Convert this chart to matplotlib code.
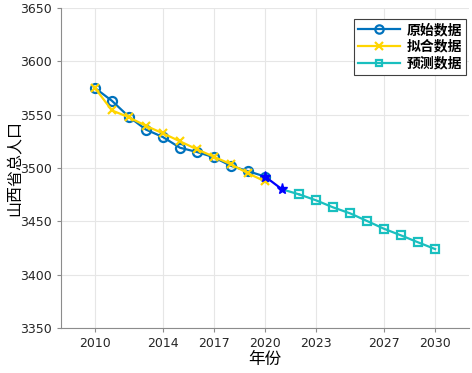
import matplotlib
matplotlib.use("Agg")
import matplotlib.pyplot as plt
from matplotlib.lines import Line2D
import numpy as np

plt.rcParams['font.family'] = ['Noto Sans CJK SC', 'DejaVu Sans']

years_orig = np.arange(2010, 2021)
pop_orig = [3575, 3563, 3548, 3536, 3529, 3519, 3515, 3510, 3502, 3497, 3492]
pop_fit = [3575, 3554, 3547.5, 3539.5, 3532.5, 3525, 3517.5, 3510.5, 3503.5, 3495, 3487.5]
years_link = [2020, 2021]
pop_link = [3492, 3480]
years_pred = np.arange(2021, 2031)
pop_pred = [3480, 3475.3, 3469.7, 3463.1, 3457.5, 3450.3, 3443, 3436.8, 3430.3, 3424]
xticks = [2010, 2014, 2017, 2020, 2023, 2027, 2030]

fig = plt.figure(figsize=(4.72, 3.73), dpi=100)
ax = fig.add_axes([0.129, 0.1206, 0.865, 0.858])

ax.plot(years_orig, pop_orig, '-o', color='#0072BD', lw=1.6, ms=6.5,
        mfc='none', mew=1.6, zorder=3)
ax.plot(years_orig, pop_fit, '-x', color='#FFD500', lw=1.6, ms=6,
        mew=1.6, zorder=4)
ax.plot(years_link, pop_link, '-*', color='#0000FF', lw=1.6, ms=8,
        zorder=5)
ax.plot(years_pred[1:], pop_pred[1:], '-s', color='#19BFBF', lw=1.6, ms=5.5,
        mfc='none', mew=1.6, zorder=3)
ax.plot(years_pred[:2], pop_pred[:2], '-', color='#19BFBF', lw=1.6, zorder=2)

ax.set_xlim(2008, 2032)
ax.set_ylim(3350, 3650)
ax.set_xticks(xticks)
ax.set_yticks(np.arange(3350, 3651, 50))
ax.grid(True, color='#E6E6E6', lw=0.8)
ax.set_axisbelow(True)
for s in ['top', 'right']:
    ax.spines[s].set_visible(False)
for s in ['left', 'bottom']:
    ax.spines[s].set_color('#8C8C8C')
ax.tick_params(colors='#8C8C8C', length=3, labelsize=9, labelcolor='#262626')
for lab in ax.get_xticklabels() + ax.get_yticklabels():
    lab.set_family('DejaVu Sans')

ax.set_xlabel('年份', fontsize=12, fontweight='medium', labelpad=1)
ax.set_ylabel('山西省总人口', fontsize=11.5, fontweight='medium')
ax.yaxis.set_label_coords(-0.094, 0.5)

handles = [
    Line2D([], [], color='#0072BD', lw=1.6, marker='o', ms=6, mfc='none', mew=1.6),
    Line2D([], [], color='#FFD500', lw=1.6, marker='x', ms=6, mew=1.6),
    Line2D([], [], color='#19BFBF', lw=1.6, marker='s', ms=5, mfc='none', mew=1.6),
]
leg = ax.legend(handles, ['原始数据', '拟合数据', '预测数据'], loc='upper right',
                bbox_to_anchor=(0.993, 0.966), borderaxespad=0, fancybox=False,
                framealpha=1, edgecolor='#404040',
                prop={'size': 10, 'weight': 'bold'},
                handlelength=3, borderpad=0.3, labelspacing=0.2, handletextpad=0.5)
leg.get_frame().set_linewidth(0.8)

fig.savefig('out.png', dpi=100)
